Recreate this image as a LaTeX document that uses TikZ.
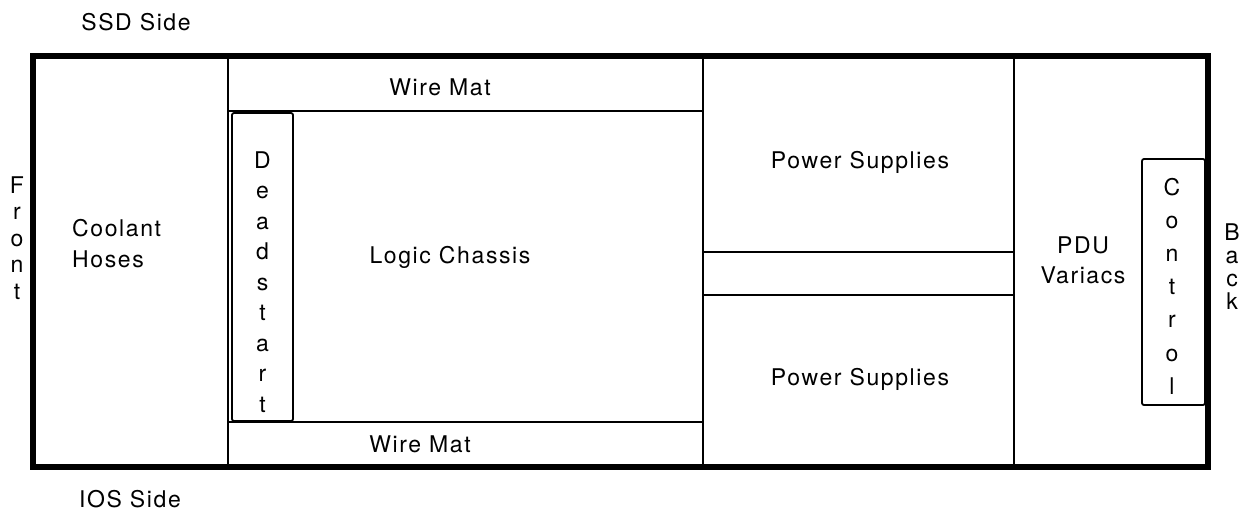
\documentclass[tikz,border=0pt]{standalone}
\usepackage{fontspec}
\setmainfont{TeX Gyre Heros}[LetterSpace=7]
\begin{document}
\begin{tikzpicture}[x=1pt,y=-1pt,
  lbl/.style={font=\fontsize{23}{23}\selectfont, inner sep=0pt, anchor=base},
  frame/.style={line width=6pt, line join=miter},
  part/.style={line width=1.8pt},
  slot/.style={line width=1.8pt, rounded corners=2pt}]
\useasboundingbox (0,0) rectangle (1244,520);
% outer cabinet
\draw[frame] (33,56) rectangle (1208,467);
\coordinate (c1t) at (228,56);  \coordinate (c1b) at (228,467);
\coordinate (c2t) at (703,56);  \coordinate (c2b) at (703,467);
\coordinate (c3t) at (1014,56); \coordinate (c3b) at (1014,467);
\draw[part] (c1t) -- (c1b);
\draw[part] (c2t) -- (c2b);
\draw[part] (c3t) -- (c3b);
% wire mats
\coordinate (wt1) at (228,111); \coordinate (wt2) at (703,111);
\coordinate (wb1) at (228,422); \coordinate (wb2) at (703,422);
\draw[part] (wt1) -- (wt2);
\draw[part] (wb1) -- (wb2);
% power supply separators
\coordinate (p1a) at (703,252); \coordinate (p1b) at (1014,252);
\coordinate (p2a) at (703,295); \coordinate (p2b) at (1014,295);
\draw[part] (p1a) -- (p1b);
\draw[part] (p2a) -- (p2b);
% deadstart and control boxes
\draw[slot] (232,113) rectangle (293,421);
\draw[slot] (1142,159) rectangle (1205,405);
% labels
\node[lbl] (ssd) at (136,30) {SSD Side};
\node[lbl] (ios) at (130,507) {IOS Side};
\node[lbl] (wm1) at (440,95) {Wire Mat};
\node[lbl] (wm2) at (420,452) {Wire Mat};
\node[lbl] (lc) at (450,263) {Logic Chassis};
\node[lbl, anchor=base west] (cool) at (72,236) {Coolant};
\node[lbl, anchor=base west] (hose) at (72,267) {Hoses};
\node[lbl] (ps1) at (860,168) {Power Supplies};
\node[lbl] (ps2) at (860,385) {Power Supplies};
\node[lbl] (pdu) at (1083,253) {PDU};
\node[lbl] (var) at (1083,283) {Variacs};
\foreach \ch [count=\i from 0] in {D,e,a,d,s,t,a,r,t}
  \node[lbl] (ds\i) at (262.5,168+30.5*\i) {\ch};
\foreach \ch [count=\i from 0] in {C,o,n,t,r,o,l}
  \node[lbl] (ct\i) at (1172,195+33.2*\i) {\ch};
\foreach \ch [count=\i from 0] in {F,r,o,n,t}
  \node[lbl] (fr\i) at (17,193+26.5*\i) {\ch};
\foreach \ch [count=\i from 0] in {B,a,c,k}
  \node[lbl] (bk\i) at (1232,240+23.3*\i) {\ch};
\end{tikzpicture}
\end{document}
